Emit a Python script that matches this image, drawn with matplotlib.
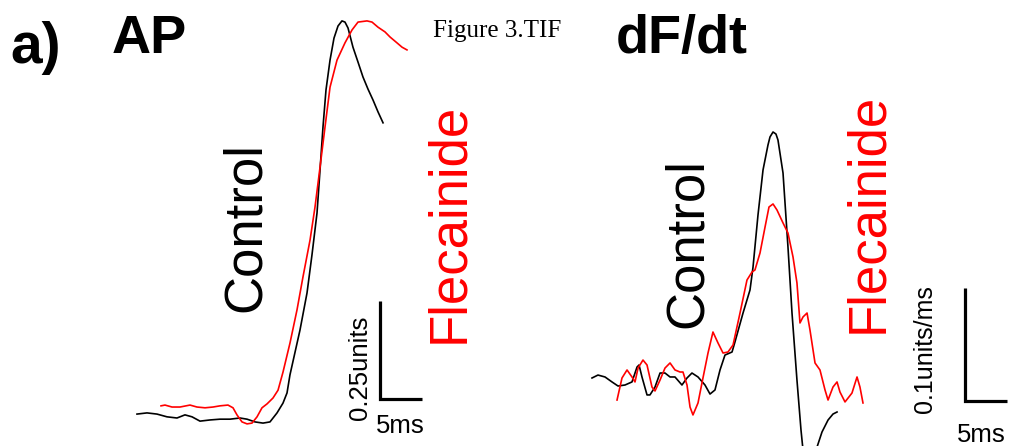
import numpy as np
import matplotlib
matplotlib.use("Agg")
from matplotlib import pyplot as plt

W, H = 1010, 446
SANS = "Liberation Sans"
SERIF = "Liberation Serif"

# AP traces: time (ms), normalised fluorescence (units)
ap_ctrl_t = [0.00, 1.19, 2.38, 3.57, 4.76, 5.71, 6.55, 7.50, 8.69, 9.88,
             11.07, 12.26, 13.10, 14.05, 15.00, 15.83, 16.67, 17.38, 17.86, 18.21,
             19.40, 20.24, 20.83, 21.43, 21.79, 22.14, 22.50, 22.98, 23.45, 23.93,
             24.40, 24.76, 25.12, 25.71, 26.31, 26.90, 27.50, 28.10, 28.69, 29.29]
ap_ctrl_v = [0.010, 0.013, 0.010, 0.003, 0.000, 0.008, 0.003, -0.008, -0.005, -0.003,
             -0.003, 0.000, -0.003, -0.010, -0.013, -0.010, 0.013, 0.038, 0.064, 0.110,
             0.224, 0.319, 0.416, 0.523, 0.633, 0.742, 0.837, 0.913, 0.969, 1.000,
             1.013, 1.010, 0.995, 0.946, 0.908, 0.870, 0.839, 0.811, 0.781, 0.753]

ap_flec_t = [2.86, 3.33, 4.17, 5.12, 6.31, 7.14, 8.10, 9.05, 9.88, 10.83,
             11.43, 11.90, 12.50, 13.10, 13.69, 14.29, 14.88, 15.48, 16.19, 16.79,
             17.38, 18.21, 19.05, 19.76, 20.60, 21.19, 21.79, 22.38, 22.98, 23.81,
             24.76, 25.60, 26.31, 27.38, 27.98, 28.69, 29.52, 30.12, 30.95, 31.55,
             32.14]
ap_flec_v = [0.031, 0.033, 0.028, 0.028, 0.033, 0.028, 0.026, 0.028, 0.031, 0.033,
             0.026, 0.008, -0.010, -0.015, -0.013, 0.003, 0.026, 0.036, 0.051, 0.071,
             0.117, 0.191, 0.276, 0.360, 0.454, 0.538, 0.640, 0.742, 0.844, 0.913,
             0.957, 0.990, 1.010, 1.013, 1.010, 0.997, 0.985, 0.972, 0.957, 0.946,
             0.939]

# dF/dt traces: time (ms), units/ms
df_ctrl_t = [0.00, 0.71, 1.55, 2.38, 3.10, 3.93, 4.76, 5.36, 5.60, 5.95,
             6.55, 6.90, 7.50, 8.10, 8.69, 9.29, 9.88, 10.71, 11.31, 11.90,
             12.62, 13.45, 14.05, 14.64, 15.24, 15.83, 16.67, 17.02, 17.98, 18.81,
             19.17, 19.76, 20.36, 20.95, 21.19, 21.55, 21.90, 22.14, 22.74, 23.33,
             23.81, 24.40, 24.88, 25.24, 25.71, 26.19, 26.79, 27.38, 28.10, 28.69,
             29.17]
df_ctrl_d = [0.0062, 0.0088, 0.0071, 0.0027, -0.0009, 0.0, 0.0027, 0.0159, 0.0177, 0.0071,
             -0.0088, -0.0088, -0.0018, 0.0106, 0.0106, 0.0071, 0.0071, 0.0, 0.0062, 0.0106,
             0.0071, 0.0, -0.0080, -0.0044, 0.0133, 0.0265, 0.0292, 0.0381, 0.0637, 0.0841,
             0.1044, 0.1504, 0.1903, 0.2124, 0.2195, 0.2239, 0.2221, 0.2168, 0.1876, 0.1221,
             0.0637, 0.0044, -0.0398, -0.0664, -0.0823, -0.0752, -0.0549, -0.0416, -0.0310, -0.0257,
             -0.0239]

df_flec_t = [2.98, 3.57, 4.17, 4.76, 5.12, 5.48, 6.07, 6.55, 7.14, 7.50,
             8.10, 8.69, 9.29, 9.88, 10.48, 10.83, 11.31, 11.67, 12.02, 12.62,
             13.21, 13.81, 14.40, 15.00, 15.60, 16.19, 16.79, 17.62, 18.45, 19.05,
             19.40, 20.00, 20.60, 21.07, 21.55, 22.02, 22.74, 23.33, 23.93, 24.40,
             24.76, 25.12, 25.60, 25.95, 26.55, 27.14, 27.74, 28.10, 28.69, 29.17,
             29.52, 30.12, 30.95, 31.55, 31.90, 32.26]
df_flec_d = [-0.0133, 0.0062, 0.0133, 0.0071, 0.0027, 0.0150, 0.0221, 0.0177, -0.0018, -0.0053,
             0.0044, 0.0150, 0.0195, 0.0133, 0.0115, 0.0115, 0.0, -0.0195, -0.0265, -0.0159,
             0.0062, 0.0283, 0.0469, 0.0372, 0.0283, 0.0292, 0.0354, 0.0637, 0.0929, 0.1000,
             0.1018, 0.1168, 0.1398, 0.1575, 0.1602, 0.1549, 0.1434, 0.1345, 0.1133, 0.0903,
             0.0549, 0.0602, 0.0637, 0.0487, 0.0195, 0.0133, -0.0044, -0.0133, -0.0018, 0.0027,
             -0.0062, -0.0150, -0.0071, 0.0071, -0.0018, -0.0159]

# scale bars (ms, amplitude)
AP_BAR = (5, 0.25)
DF_BAR = (5, 0.1)


def panel_axes(fig, px_per_ms, px_per_unit, t0_px, y0_px):
    # axes spanning whole figure, scaled so traces sit where they do in the figure
    ax = fig.add_axes([0, 0, 1, 1])
    ax.patch.set_visible(False)
    ax.set_xlim(-t0_px / px_per_ms, (W - t0_px) / px_per_ms)
    ax.set_ylim((y0_px - H) / px_per_unit, y0_px / px_per_unit)
    ax.axis("off")
    return ax


def scale_bar(ax, x0, y0, size):
    ax.plot([x0, x0, x0 + size[0]], [y0 + size[1], y0, y0], color="black",
            lw=2.3, solid_joinstyle="miter", solid_capstyle="butt")


def label(fig, x, y, s, **kw):
    fig.text(x / W, 1 - y / H, s, **kw)


def vlabel(fig, x, y, s, **kw):
    fig.text(x / W, 1 - y / H, s, rotation=90, rotation_mode="anchor",
             ha="left", va="baseline", **kw)


fig = plt.figure(figsize=(W / 100, H / 100), dpi=100)

ax_ap = panel_axes(fig, 8.4, 392, 137, 418)
ax_ap.plot(ap_ctrl_t, ap_ctrl_v, color="black", lw=1.2, solid_joinstyle="round")
ax_ap.plot(ap_flec_t, ap_flec_v, color="red", lw=1.2, solid_joinstyle="round")
scale_bar(ax_ap, 28.93, 0.048, AP_BAR)

ax_df = panel_axes(fig, 8.4, 1130, 592, 385)
ax_df.plot(df_ctrl_t, df_ctrl_d, color="black", lw=1.2, solid_joinstyle="round")
ax_df.plot(df_flec_t, df_flec_d, color="red", lw=1.2, solid_joinstyle="round")
scale_bar(ax_df, 44.4, -0.0142, DF_BAR)

label(fig, 10, 63, "a)", family=SANS, weight="bold", fontsize=41)
label(fig, 112, 53, "AP", family=SANS, weight="bold", fontsize=39)
label(fig, 616, 53, "dF/dt", family=SANS, weight="bold", fontsize=39)
label(fig, 433, 37, "Figure 3.TIF", family=SERIF, fontsize=18)

vlabel(fig, 260, 312, "Control", family=SANS, fontsize=38, color="black")
vlabel(fig, 463, 343, "Flecainide", family=SANS, fontsize=38, color="red")
vlabel(fig, 702, 328, "Control", family=SANS, fontsize=38, color="black")
vlabel(fig, 882, 333, "Flecainide", family=SANS, fontsize=38, color="red")

vlabel(fig, 367, 420, "0.25units", family=SANS, fontsize=18.5)
label(fig, 376, 433, "5ms", family=SANS, fontsize=18.5)
vlabel(fig, 932, 413, "0.1units/ms", family=SANS, fontsize=18)
label(fig, 957, 442, "5ms", family=SANS, fontsize=18.5)

fig.savefig("out.png", dpi=100)
